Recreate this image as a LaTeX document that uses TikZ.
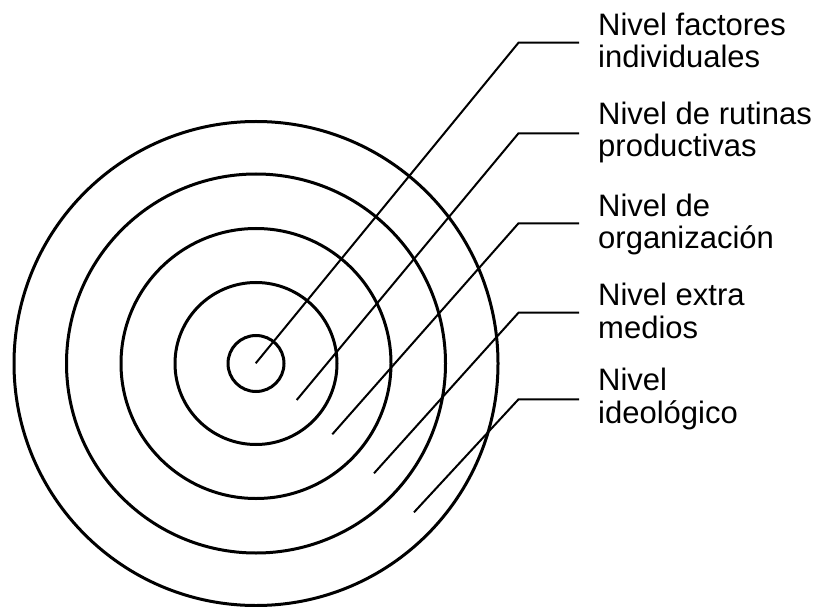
\documentclass[tikz,border=0pt]{standalone}
\usepackage{fontspec}
\setmainfont{Liberation Sans}
\begin{document}
\begin{tikzpicture}[x=1pt,y=1pt,
  ring/.style={draw, circle, line width=3pt, inner sep=0pt, outer sep=0pt},
  leader/.style={line width=2pt},
  lbl/.style={anchor=base west, align=left, inner sep=0pt, font=\fontsize{31}{32.2}\selectfont}]
\useasboundingbox (0,0) rectangle (824,606);
\coordinate (C) at (256,242.5);
\node[ring, minimum size=56pt]  (r1) at (C) {};
\node[ring, minimum size=162pt] (r2) at (C) {};
\node[ring, minimum size=270pt] (r3) at (C) {};
\node[ring, minimum size=379pt] (r4) at (C) {};
\node[ring, minimum size=484pt] (r5) at (C) {};
% leader points
\coordinate (p1) at (255.7,242.7); \coordinate (k1) at (518.5,563.3); \coordinate (e1) at (579,563.3);
\coordinate (p2) at (296.7,206);   \coordinate (k2) at (518.5,472.7); \coordinate (e2) at (579,472.7);
\coordinate (p3) at (332.3,171.7); \coordinate (k3) at (518.5,382.7); \coordinate (e3) at (579,382.7);
\coordinate (p4) at (374,132.7);   \coordinate (k4) at (518.5,293.3); \coordinate (e4) at (579,293.3);
\coordinate (p5) at (414,93.7);    \coordinate (k5) at (518.5,206.7); \coordinate (e5) at (579,206.7);
\draw[leader] (p1) -- (k1) -- (e1);
\draw[leader] (p2) -- (k2) -- (e2);
\draw[leader] (p3) -- (k3) -- (e3);
\draw[leader] (p4) -- (k4) -- (e4);
\draw[leader] (p5) -- (k5) -- (e5);
% labels (anchor = baseline of the last line)
\node[lbl] (t1) at (598,538.6) {Nivel factores\\individuales};
\node[lbl] (t2) at (598,449.1) {Nivel de rutinas\\productivas};
\node[lbl] (t3) at (598,357.7) {Nivel de\\organización};
\node[lbl] (t4) at (598,267.9) {Nivel extra\\medios};
\node[lbl] (t5) at (598,182.9) {Nivel\\ideológico};
\end{tikzpicture}
\end{document}
